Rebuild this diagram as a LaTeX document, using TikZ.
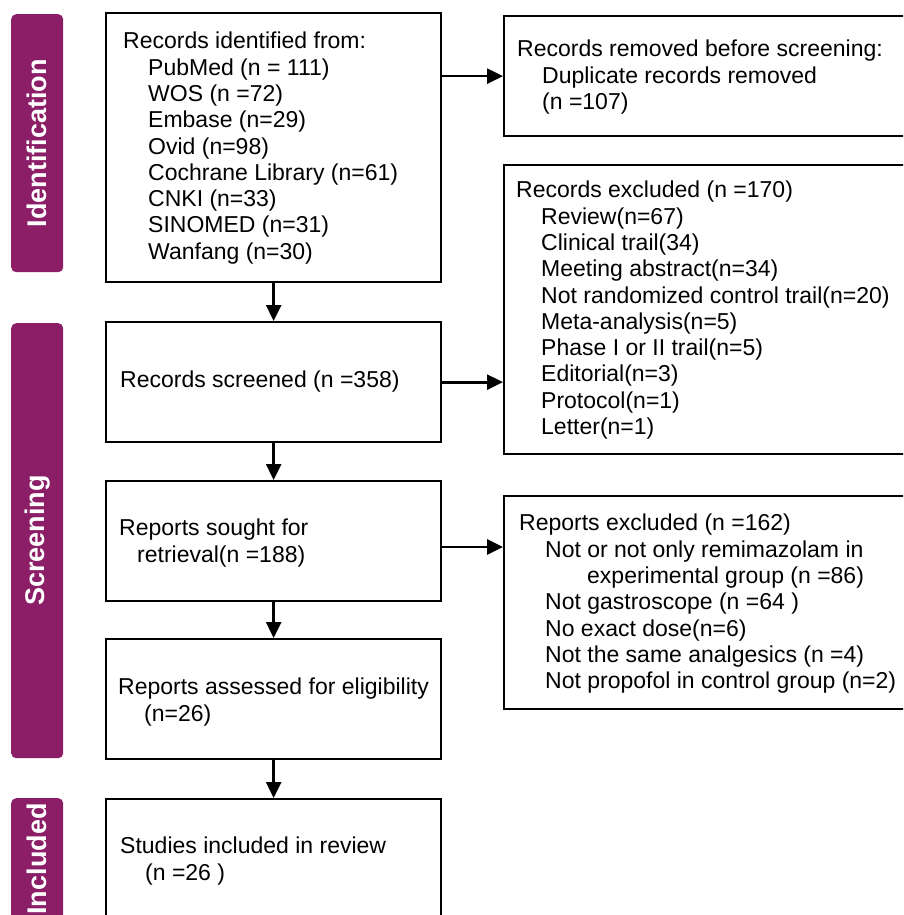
\documentclass[tikz,border=0pt]{standalone}
\usepackage{fontspec}
\setmainfont{Liberation Sans}
\usetikzlibrary{arrows.meta}
\definecolor{phase}{RGB}{139,30,102}
\begin{document}
\begin{tikzpicture}[x=1pt,y=-1pt,
  box/.style={draw=black, line width=2.3pt, rectangle, anchor=north west, inner sep=0pt},
  txt/.style={anchor=north west, inner sep=0pt, align=left, font=\fontsize{23}{26.3}\selectfont},
  bar/.style={fill=phase, rounded corners=5pt, rectangle, anchor=north west, inner sep=0pt, draw=none},
  barlbl/.style={text=white, rotate=90, inner sep=0pt, font=\fontsize{27}{30}\selectfont\bfseries},
  arr/.style={line width=2.7pt, -{Triangle[length=16pt,width=15pt]}}]
\useasboundingbox (0,0) rectangle (903,915);
\clip (0,0) rectangle (903,915);
% phase bars
\node[bar, minimum width=52pt, minimum height=258pt] (idbar) at (11,14) {};
\node[bar, minimum width=52pt, minimum height=435pt] (scrbar) at (11,323) {};
\node[bar, minimum width=52pt, minimum height=160pt] (incbar) at (11,798) {};
\node[barlbl] (idlbl) at (idbar.center) {Identification};
\node[barlbl] (scrlbl) at (scrbar.center) {Screening};
\node[barlbl] (inclbl) at (37,859) {Included};
% main boxes
\node[box, minimum width=335pt, minimum height=269pt] (id) at (105,12) {};
\node[box, minimum width=335pt, minimum height=120pt] (scr) at (105,321) {};
\node[box, minimum width=335pt, minimum height=120pt] (sought) at (105,480) {};
\node[box, minimum width=335pt, minimum height=120pt] (assess) at (105,638) {};
\node[box, minimum width=335pt, minimum height=160pt] (incl) at (105,798) {};
% side boxes
\node[box, minimum width=403pt, minimum height=120pt] (rem) at (503,15) {};
\node[box, minimum width=403pt, minimum height=289pt] (exc) at (503,164) {};
\node[box, minimum width=403pt, minimum height=213pt] (rep) at (503,495) {};
% texts
\node[txt] (idt) at (123,32) {Records identified from:\\
\hspace*{25pt}PubMed (n = 111)\\
\hspace*{25pt}WOS (n =72)\\
\hspace*{25pt}Embase (n=29)\\
\hspace*{25pt}Ovid (n=98)\\
\hspace*{25pt}Cochrane Library (n=61)\\
\hspace*{25pt}CNKI (n=33)\\
\hspace*{25pt}SINOMED (n=31)\\
\hspace*{25pt}Wanfang (n=30)};
\node[txt] (remt) at (517,40) {Records removed before screening:\\
\hspace*{25pt}Duplicate records removed\\
\hspace*{25pt}(n =107)};
\node[txt] (exct) at (516,181) {Records excluded (n =170)\\
\hspace*{25pt}Review(n=67)\\
\hspace*{25pt}Clinical trail(34)\\
\hspace*{25pt}Meeting abstract(n=34)\\
\hspace*{25pt}Not randomized control trail(n=20)\\
\hspace*{25pt}Meta-analysis(n=5)\\
\hspace*{25pt}Phase I or II trail(n=5)\\
\hspace*{25pt}Editorial(n=3)\\
\hspace*{25pt}Protocol(n=1)\\
\hspace*{25pt}Letter(n=1)};
\node[txt] (scrt) at (120,371) {Records screened (n =358)};
\node[txt] (soughtt) at (119,519) {Reports sought for\\
\hspace*{18pt}retrieval(n =188)};
\node[txt] (assesst) at (118,678) {Reports assessed for eligibility\\
\hspace*{26pt}(n=26)};
\node[txt] (inclt) at (120,837) {Studies included in review\\
\hspace*{25pt}(n =26 )};
\node[txt] (rept) at (519,514) {Reports excluded (n =162)\\
\hspace*{26pt}Not or not only remimazolam in\\
\hspace*{68pt}experimental group (n =86)\\
\hspace*{26pt}Not gastroscope (n =64 )\\
\hspace*{26pt}No exact dose(n=6)\\
\hspace*{26pt}Not the same analgesics (n =4)\\
\hspace*{26pt}Not propofol in control group (n=2)};
% connectors
\draw[arr] (id.south) -- (scr.north);
\draw[arr] (scr.south) -- (sought.north);
\draw[arr] (sought.south) -- (assess.north);
\draw[arr] (assess.south) -- (incl.north);
\draw[arr] (id.east |- rem.west) -- (rem.west);
\draw[arr] (scr.east) -- (scr.east -| exc.west);
\coordinate (a3) at (440,547);
\draw[arr] (a3) -- (a3 -| rep.west);
\end{tikzpicture}
\end{document}
